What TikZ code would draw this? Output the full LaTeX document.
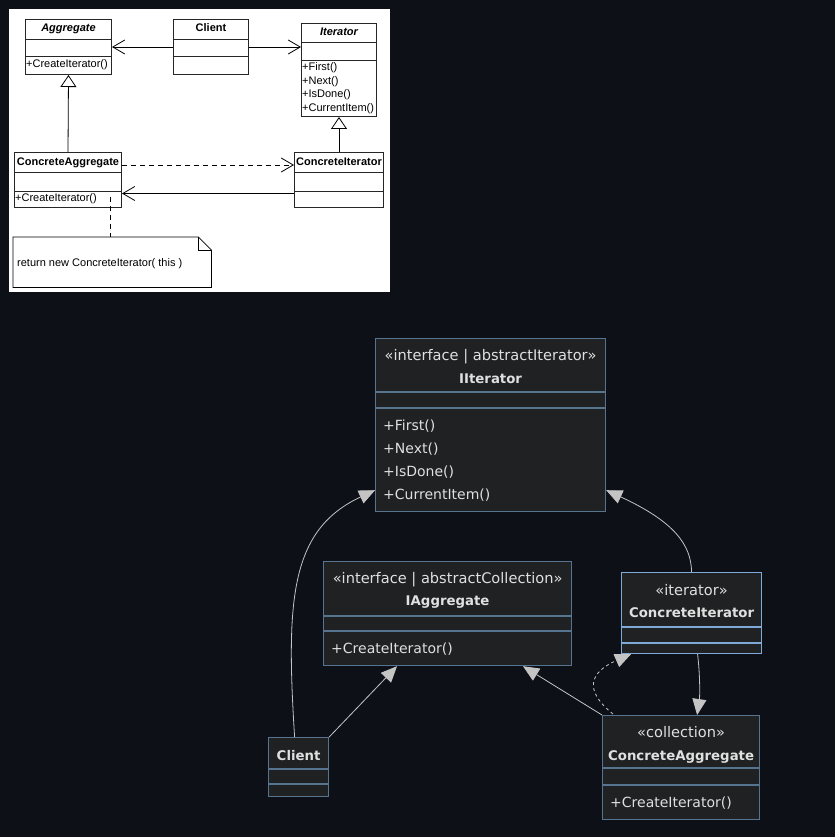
\documentclass[tikz,border=0pt]{standalone}
\usepackage{fontspec}
\newfontfamily\fonteescura{DejaVu Sans}
\newfontfamily\fonteclara{Liberation Sans}
\usetikzlibrary{arrows.meta,calc}
\definecolor{fundo}{HTML}{0D1117}
\definecolor{caixa}{HTML}{202122}
\definecolor{borda}{HTML}{56748F}
\definecolor{bordaclara}{HTML}{7FA9D6}
\definecolor{linha}{HTML}{C4C4C4}
\definecolor{texto}{HTML}{E0E0E0}

\begin{document}
\begin{tikzpicture}[x=1pt,y=-1pt,
  classe/.style={draw=borda,fill=caixa,line width=1.2pt,inner sep=0pt,anchor=north west},
  divisoria/.style={draw=borda,line width=1.2pt},
  estereo/.style={text=texto,inner sep=0pt,anchor=base,font=\fonteescura\fontsize{14.6}{14.6}\selectfont},
  titulo/.style={estereo,font=\fonteescura\bfseries\fontsize{13.3}{13.3}\selectfont},
  metodo/.style={estereo,anchor=base west,font=\fonteescura\fontsize{14}{14}\selectfont},
  assoc/.style={draw=linha,line width=0.8pt,-{Triangle[length=16pt,width=14pt,fill=linha]}},
  velha/.style={draw=black!85,fill=white,line width=1pt,inner sep=0pt,anchor=north west},
  velhotxt/.style={inner sep=0pt,anchor=base,font=\fonteclara\fontsize{11}{11}\selectfont},
  velhotit/.style={velhotxt,font=\fonteclara\bfseries\fontsize{11}{11}\selectfont},
  aberta/.style={draw=black,line width=0.8pt,-{Straight Barb[length=12pt,width=14pt]}},
  heranca/.style={draw=black,line width=0.8pt,-{Triangle[open,length=12pt,width=16pt,fill=white]}}]
%fundo
  \fill[fundo] (0,0) rectangle (835,837);
  \useasboundingbox (0,0) rectangle (835,837);
  \fill[white] (9,9) rectangle (390,292);

%figura antiga: caixas
  \node[velha,minimum width=86pt,minimum height=55pt] (agg) at (25,19) {};
  \node[velhotit,font=\fonteclara\bfseries\itshape\fontsize{11}{11}\selectfont] at ($(agg.north)+(0,13)$) {Aggregate};
  \draw[black!85] ($(agg.north west)+(0,20)$) -- ($(agg.north east)+(0,20)$);
  \draw[black!85] ($(agg.north west)+(0,37)$) -- ($(agg.north east)+(0,37)$);
  \node[velhotxt,anchor=base west] at ($(agg.north west)+(1,49)$) {+CreateIterator()};

  \node[velha,minimum width=75pt,minimum height=55pt] (cliA) at (173,19) {};
  \node[velhotit] at ($(cliA.north)+(0,13)$) {Client};
  \draw[black!85] ($(cliA.north west)+(0,20)$) -- ($(cliA.north east)+(0,20)$);
  \draw[black!85] ($(cliA.north west)+(0,37)$) -- ($(cliA.north east)+(0,37)$);

  \node[velha,minimum width=75pt,minimum height=93pt] (itA) at (301,23) {};
  \node[velhotit,font=\fonteclara\bfseries\itshape\fontsize{11}{11}\selectfont] at ($(itA.north)+(0,13)$) {Iterator};
  \draw[black!85] ($(itA.north west)+(0,19)$) -- ($(itA.north east)+(0,19)$);
  \draw[black!85] ($(itA.north west)+(0,37)$) -- ($(itA.north east)+(0,37)$);
  \foreach \m [count=\i] in {First,Next,IsDone,CurrentItem}
    \node[velhotxt,anchor=base west] at ($(itA.north west)+(1,34.5+13.5*\i)$) {+\m()};

  \node[velha,minimum width=107pt,minimum height=55pt] (cagA) at (14,152) {};
  \node[velhotit] at ($(cagA.north)+(0,14)$) {ConcreteAggregate};
  \draw[black!85] ($(cagA.north west)+(0,20)$) -- ($(cagA.north east)+(0,20)$);
  \draw[black!85] ($(cagA.north west)+(0,39)$) -- ($(cagA.north east)+(0,39)$);
  \node[velhotxt,anchor=base west] at ($(cagA.north west)+(1,49)$) {+CreateIterator()};

  \node[velha,minimum width=89pt,minimum height=55pt] (citA) at (294,152) {};
  \node[velhotit] at ($(citA.north)+(0,14)$) {ConcreteIterator};
  \draw[black!85] ($(citA.north west)+(0,20)$) -- ($(citA.north east)+(0,20)$);
  \draw[black!85] ($(citA.north west)+(0,39)$) -- ($(citA.north east)+(0,39)$);

%figura antiga: nota
  \node[inner sep=0pt,minimum width=198pt,minimum height=50pt,anchor=north west] (nota) at (13,237) {};
  \draw[black,line width=0.8pt,fill=white] (nota.north west) -- ($(nota.north east)+(-13,0)$)
    -- ($(nota.north east)+(0,13)$) -- (nota.south east) -- (nota.south west) -- cycle;
  \draw[black,line width=0.8pt] ($(nota.north east)+(-13,0)$) -- ++(0,13) -- ++(13,0);
  \node[velhotxt,anchor=base west] at ($(nota.north west)+(4,29)$) {return new ConcreteIterator( this )};

%figura antiga: setas
  \draw[aberta] (cliA.west) -- (agg.east);
  \draw[aberta] (cliA.east) -- (cliA.east -| itA.west);
  \draw[heranca] (cagA.north) -- (agg.south);
  \draw[heranca] (citA.north) -- (citA.north |- itA.south);
  \draw[aberta,dash pattern=on 5pt off 4pt] ($(cagA.north east)+(0,13)$) -- ($(citA.north west)+(0,13)$);
  \draw[aberta] ($(citA.west)+(0,13.5)$) -- ($(cagA.east)+(0,13.5)$);
  \draw[black,line width=0.8pt,dash pattern=on 5pt off 4pt] ($(cagA.south west)+(96,-11)$) -- ($(nota.north west)+(97,0)$);

%figura nova: classes
  \node[classe,minimum width=230pt,minimum height=173pt] (iit) at (375,338) {};
  \node[estereo] at ($(iit.north)+(0,22)$) {«interface | abstractIterator»};
  \node[titulo] at ($(iit.north)+(0,45)$) {IIterator};
  \draw[divisoria] ($(iit.north west)+(0,54)$) -- ($(iit.north east)+(0,54)$);
  \draw[divisoria] ($(iit.north west)+(0,70)$) -- ($(iit.north east)+(0,70)$);
  \foreach \m [count=\i] in {First,Next,IsDone,CurrentItem}
    \node[metodo] at ($(iit.north west)+(8,69+23*\i)$) {+\m()};

  \node[classe,minimum width=248pt,minimum height=104pt] (iag) at (323,561) {};
  \node[estereo] at ($(iag.north)+(0,22)$) {«interface | abstractCollection»};
  \node[titulo] at ($(iag.north)+(0,44)$) {IAggregate};
  \draw[divisoria] ($(iag.north west)+(0,55)$) -- ($(iag.north east)+(0,55)$);
  \draw[divisoria] ($(iag.north west)+(0,70)$) -- ($(iag.north east)+(0,70)$);
  \node[metodo] at ($(iag.north west)+(8,92)$) {+CreateIterator()};

  \node[classe,draw=bordaclara,minimum width=140pt,minimum height=81pt] (cit) at (621,572) {};
  \node[estereo] at ($(cit.north)+(0,23)$) {«iterator»};
  \node[titulo] at ($(cit.north)+(0,45)$) {ConcreteIterator};
  \draw[divisoria,draw=bordaclara] ($(cit.north west)+(0,55)$) -- ($(cit.north east)+(0,55)$);
  \draw[divisoria,draw=bordaclara] ($(cit.north west)+(0,71)$) -- ($(cit.north east)+(0,71)$);

  \node[classe,minimum width=157pt,minimum height=104pt] (cag) at (602,715) {};
  \node[estereo] at ($(cag.north)+(0,22)$) {«collection»};
  \node[titulo] at ($(cag.north)+(0,45)$) {ConcreteAggregate};
  \draw[divisoria] ($(cag.north west)+(0,53)$) -- ($(cag.north east)+(0,53)$);
  \draw[divisoria] ($(cag.north west)+(0,70)$) -- ($(cag.north east)+(0,70)$);
  \node[metodo] at ($(cag.north west)+(8,92)$) {+CreateIterator()};

  \node[classe,minimum width=60pt,minimum height=59pt] (cli) at (268,737) {};
  \node[titulo] at ($(cli.north)+(0,23)$) {Client};
  \draw[divisoria] ($(cli.north west)+(0,32)$) -- ($(cli.north east)+(0,32)$);
  \draw[divisoria] ($(cli.north west)+(0,47)$) -- ($(cli.north east)+(0,47)$);

%figura nova: relacoes
  \draw[assoc] ($(cli.north)+(-4,0)$) .. controls (286,600) and (290,530) .. ($(iit.south west)+(0,-22)$);
  \draw[assoc] (cli.north east) -- ($(iag.south west)+(74,0)$);
  \draw[assoc] (cit.north) .. controls (691,545) and (675,522) .. ($(iit.south east)+(0,-22)$);
  \draw[assoc] (cag.north west) -- ($(iag.south west)+(200,0)$);
  \draw[assoc,dash pattern=on 3pt off 3pt] ($(cag.north west)+(11,-1)$) .. controls (583,690) and (590,672) .. ($(cit.south west)+(10,0)$);
  \draw[assoc] ($(cit.south)+(6,0)$) .. controls (700,675) and (700,695) .. ($(cag.north)+(16,0)$);
\end{tikzpicture}
\end{document}
